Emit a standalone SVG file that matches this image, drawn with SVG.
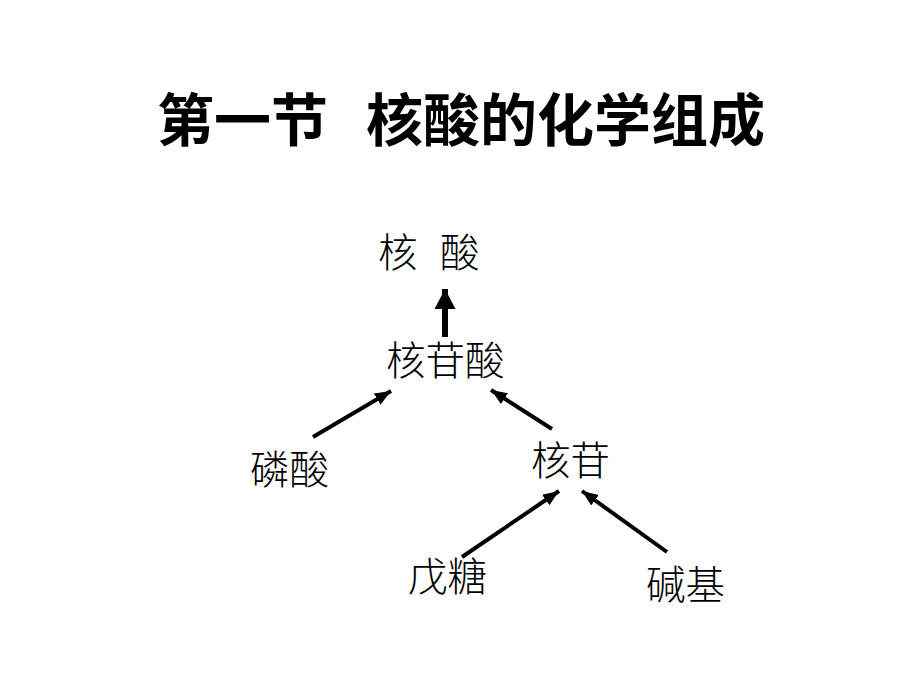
<svg xmlns="http://www.w3.org/2000/svg" width="920" height="690" viewBox="0 0 920 690">
<style>
.title{font-family:"Liberation Sans","Noto Sans CJK SC",sans-serif;font-size:57px;font-weight:bold;fill:#000}
.lbl{font-family:"Liberation Serif","Noto Sans CJK SC",serif;font-size:39.5px;font-weight:300;fill:#000}
.con{stroke:#000;stroke-width:4;fill:none;marker-end:url(#ah)}
.con2{stroke:#000;stroke-width:6;fill:none;marker-end:url(#ahb)}
</style>
<defs>
<marker id="ah" markerUnits="userSpaceOnUse" markerWidth="17" markerHeight="14" refX="16" refY="6.5" orient="auto" viewBox="0 0 17 13">
<path d="M0,0 L16,6.5 L0,13 z" fill="#000"/>
</marker>
<marker id="ahb" markerUnits="userSpaceOnUse" markerWidth="22" markerHeight="22" refX="20" refY="10.5" orient="auto" viewBox="0 0 22 21">
<path d="M0,0 L20,10.5 L0,21 z" fill="#000"/>
</marker>
</defs>
<rect width="920" height="690" fill="#fff"/>
<g id="title">
<text class="title" x="157" y="141">第一节</text>
<text class="title" x="366" y="141">核酸的化学组成</text>
</g>
<g id="n-hesuan"><text class="lbl" x="378" y="267">核</text><text class="lbl" x="440" y="267">酸</text></g>
<g id="n-hegansuan"><text class="lbl" x="386" y="375">核苷酸</text></g>
<g id="n-linsuan"><text class="lbl" x="250" y="484">磷酸</text></g>
<g id="n-hegan"><text class="lbl" x="531" y="475">核苷</text></g>
<g id="n-wutang"><text class="lbl" x="408" y="591">戊糖</text></g>
<g id="n-jianji"><text class="lbl" x="646" y="599">碱基</text></g>
<g id="connectors">
<line class="con2" x1="445" y1="337" x2="445" y2="289"/>
<line class="con" x1="313" y1="437" x2="391" y2="391"/>
<line class="con" x1="552" y1="429" x2="491" y2="390"/>
<line class="con" x1="462" y1="557" x2="559" y2="491"/>
<line class="con" x1="667" y1="552" x2="582" y2="491"/>
</g>
</svg>
